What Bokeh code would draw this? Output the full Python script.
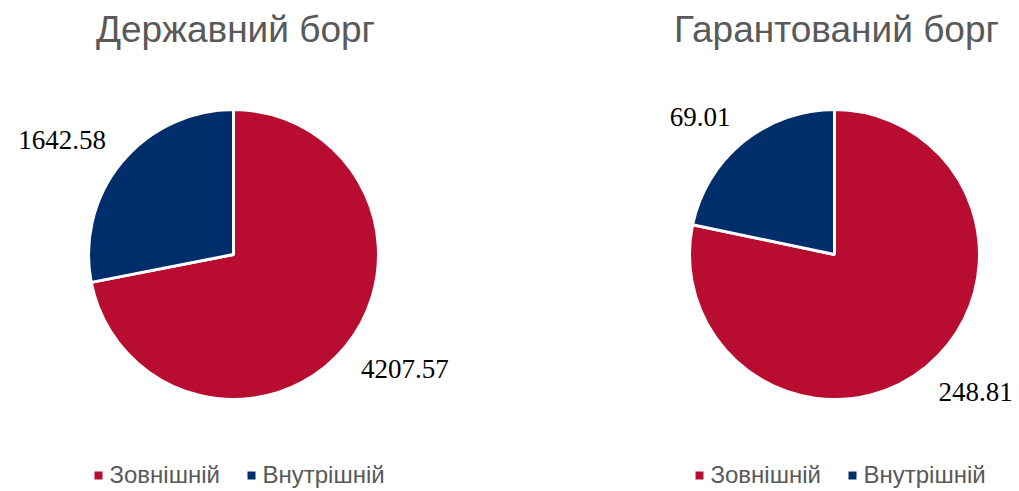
import math
from bokeh.plotting import figure
from bokeh.models import Range1d
from bokeh.core.properties import value
from bokeh.embed import file_html
from bokeh.resources import INLINE

# ---- data ----
titles = ["Державний борг", "Гарантований борг"]
categories = ["Зовнішній", "Внутрішній"]
state_debt = [4207.57, 1642.58]
guaranteed_debt = [248.81, 69.01]
colors = ["#B80D30", "#002E6A"]

W, H = 1019, 491
p = figure(width=W, height=H, output_backend="svg", toolbar_location=None,
           x_range=Range1d(0, W), y_range=Range1d(0, H), min_border=0)
p.axis.visible = False
p.grid.visible = False
p.outline_line_color = None
p.background_fill_color = "white"

def sy(y):  # screen y -> data y
    return H - y

def sx(x):
    return x

R = 145
LD = 165      # label corner distance from centre
HALF = 9.5    # half digit height
pies = [
    (233, 254, state_debt),
    (834, 254, guaranteed_debt),
]

for (cx, cy, vals), title in zip(pies, titles):
    total = sum(vals)
    start = math.pi / 2
    X, Y = sx(cx), sy(cy)
    for v, col in zip(vals, colors):
        sweep = 2 * math.pi * v / total
        end = start
        st = start - sweep
        p.wedge(x=X, y=Y, radius=R, start_angle=st, end_angle=end,
                fill_color=col, line_color="white", line_width=3)
        mid = (st + end) / 2
        lx = X + LD * math.cos(mid)
        ly = Y + LD * math.sin(mid)
        align = "left" if math.cos(mid) > 0 else "right"
        ly = ly - HALF if math.sin(mid) < 0 else ly + HALF
        p.text(x=[lx], y=[ly], text=[f"{v:.2f}"], text_align=align,
               text_baseline="middle", text_font=value("Liberation Serif"),
               text_font_size="27px", text_color="black")
        start = st
    # title
    p.text(x=[X + 2], y=[sy(29)], text=[title], text_align="center",
           text_baseline="middle", text_font=value("Liberation Sans"),
           text_font_size="37px", text_color="#595959")
    # legend
    lx0 = cx - 135
    offs = [0, 153]
    for cat, col, o in zip(categories, colors, offs):
        p.scatter(x=[sx(lx0 + o)], y=[sy(475)], marker="square", size=8,
                  fill_color=col, line_color=None)
        p.text(x=[sx(lx0 + o + 11)], y=[sy(474)], text=[cat], text_align="left",
               text_baseline="middle", text_font=value("Liberation Sans"),
               text_font_size="24px", text_color="#595959")

open("out.html", "w").write(file_html(p, INLINE))
